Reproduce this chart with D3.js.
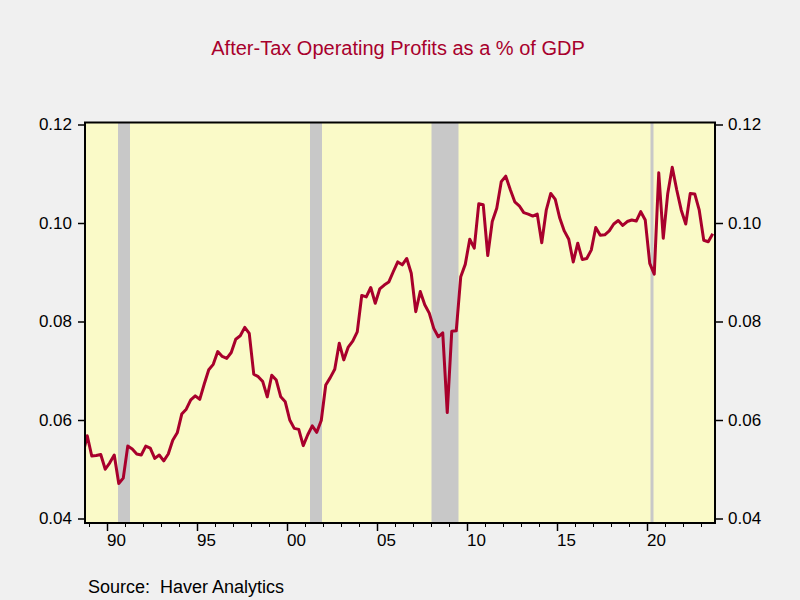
<!DOCTYPE html>
<html>
<head>
<meta charset="utf-8">
<script src="https://cdn.jsdelivr.net/npm/d3@7"></script>
<style>
  html, body { margin: 0; padding: 0; background: #f0f0f0; }
  svg { display: block; }
  text { font-family: "Liberation Sans", Arial, sans-serif; }
</style>
</head>
<body>
<svg id="chart" width="800" height="600"></svg>
<script>
// ---- Data (quarterly, starting 1988 Q3) ----
const title = "After-Tax Operating Profits as a % of GDP";
const source = "Source:  Haver Analytics";
const startYear = 1988;
const startQuarter = 3;
const profitsShare = [
  0.0530, 0.0568, 0.0527, 0.0528, 0.0530, 0.0500, 0.0513, 0.0529, // 88Q3-90Q2
  0.0471, 0.0482, 0.0547, 0.0541, 0.0531, 0.0529, 0.0547, 0.0543, // 90Q3-92Q2
  0.0522, 0.0529, 0.0517, 0.0531, 0.0559, 0.0574, 0.0612, 0.0622, // 92Q3-94Q2
  0.0641, 0.0649, 0.0642, 0.0673, 0.0702, 0.0713, 0.0739, 0.0729, // 94Q3-96Q2
  0.0725, 0.0737, 0.0764, 0.0771, 0.0788, 0.0776, 0.0693, 0.0688, // 96Q3-98Q2
  0.0678, 0.0647, 0.0691, 0.0681, 0.0647, 0.0637, 0.0600, 0.0583, // 98Q3-00Q2
  0.0581, 0.0548, 0.0570, 0.0588, 0.0575, 0.0599, 0.0671, 0.0686, // 00Q3-02Q2
  0.0703, 0.0756, 0.0722, 0.0748, 0.0760, 0.0779, 0.0853, 0.0850, // 02Q3-04Q2
  0.0869, 0.0837, 0.0866, 0.0874, 0.0880, 0.0901, 0.0921, 0.0915, // 04Q3-06Q2
  0.0928, 0.0898, 0.0820, 0.0861, 0.0834, 0.0817, 0.0786, 0.0769, // 06Q3-08Q2
  0.0777, 0.0615, 0.0780, 0.0781, 0.0891, 0.0916, 0.0967, 0.0949, // 08Q3-10Q2
  0.1039, 0.1037, 0.0934, 0.1003, 0.1030, 0.1084, 0.1095, 0.1068, // 10Q3-12Q2
  0.1043, 0.1035, 0.1021, 0.1018, 0.1014, 0.1018, 0.0960, 0.1026, // 12Q3-14Q2
  0.1060, 0.1048, 0.1010, 0.0984, 0.0967, 0.0921, 0.0959, 0.0926, // 14Q3-16Q2
  0.0928, 0.0945, 0.0991, 0.0975, 0.0976, 0.0984, 0.0998, 0.1005, // 16Q3-18Q2
  0.0995, 0.1003, 0.1006, 0.1004, 0.1023, 0.1006, 0.0918, 0.0896, // 18Q3-20Q2
  0.1102, 0.0969, 0.1060, 0.1113, 0.1067, 0.1026, 0.0998, 0.1060, // 20Q3-22Q2
  0.1059, 0.1026, 0.0965, 0.0962, 0.0978                          // 22Q3-23Q3
];
// NBER recessions (decimal years: end of peak month -> end of trough month)
const recessions = [
  [1990 + 7/12, 1991 + 3/12],
  [2001 + 3/12, 2001 + 11/12],
  [2007 + 12/12, 2009 + 6/12],
  [2020 + 2/12, 2020 + 4/12]
];
const yTicks = [0.04, 0.06, 0.08, 0.10, 0.12];
const xMajorYears = [1990, 1995, 2000, 2005, 2010, 2015, 2020];
const xMajorLabels = ["90", "95", "00", "05", "10", "15", "20"];
const xMinorYears = d3.range(1989, 2024);

// ---- Layout ----
const svg = d3.select("#chart");
const W = 800, H = 600;
const L = 85, R = 715, T = 122.5, B = 523;
const lineColor = "#a8002c";

const series = profitsShare.map((v, i) => {
  const q = (startQuarter - 1) + i;
  return { t: startYear + Math.floor(q / 4) + ((q % 4) + 0.5) / 4, v };
});

const x = d3.scaleLinear().domain([1988.75, 2023.75]).range([L, R]);
const y = d3.scaleLinear().domain([0.04, 0.12]).range([518.5, 124.5]);

svg.append("rect").attr("width", W).attr("height", H).attr("fill", "#f0f0f0");

svg.append("defs").append("clipPath").attr("id", "plotclip")
  .append("rect").attr("x", L).attr("y", T).attr("width", R - L).attr("height", B - T);

// plot background
svg.append("rect").attr("x", L).attr("y", T).attr("width", R - L).attr("height", B - T)
  .attr("fill", "#fafac8");

const plot = svg.append("g").attr("clip-path", "url(#plotclip)");

plot.selectAll("rect.rec").data(recessions).join("rect")
  .attr("class", "rec")
  .attr("x", d => x(d[0]))
  .attr("width", d => x(d[1]) - x(d[0]))
  .attr("y", T).attr("height", B - T)
  .attr("fill", "#c8c8c8");

const line = d3.line().x(d => x(d.t)).y(d => y(d.v));
plot.append("path").datum(series)
  .attr("d", line)
  .attr("fill", "none")
  .attr("stroke", lineColor)
  .attr("stroke-width", 3)
  .attr("stroke-linejoin", "round");

// frame
svg.append("rect").attr("x", L).attr("y", T).attr("width", R - L).attr("height", B - T)
  .attr("fill", "none").attr("stroke", "#000").attr("stroke-width", 2);

// Left axis
const leftAxis = d3.axisLeft(y).tickValues(yTicks).tickFormat(d3.format(".2f"))
  .tickSize(6).tickPadding(6);
const gl = svg.append("g").attr("transform", `translate(${L - 1},0)`).call(leftAxis);
gl.select(".domain").remove();
gl.selectAll("line").attr("stroke", "#000").attr("stroke-width", 1.5);
gl.selectAll("text").attr("font-size", 17).attr("fill", "#000")
  .style("font-family", '"Liberation Sans", Arial, sans-serif');

// Right axis
const rightAxis = d3.axisRight(y).tickValues(yTicks).tickFormat(d3.format(".2f"))
  .tickSize(7).tickPadding(5);
const gr = svg.append("g").attr("transform", `translate(${R + 1},0)`).call(rightAxis);
gr.select(".domain").remove();
gr.selectAll("line").attr("stroke", "#000").attr("stroke-width", 1.5);
gr.selectAll("text").attr("font-size", 17).attr("fill", "#000")
  .style("font-family", '"Liberation Sans", Arial, sans-serif');

// Bottom axis: minor ticks each year, major every 5 yrs, labels at mid-year
const gb = svg.append("g").attr("transform", `translate(0,${B + 1})`);
gb.selectAll("line.minor").data(xMinorYears.filter(yr => !xMajorYears.includes(yr))).join("line")
  .attr("class", "minor")
  .attr("x1", d => x(d)).attr("x2", d => x(d))
  .attr("y1", 0).attr("y2", 3)
  .attr("stroke", "#000").attr("stroke-width", 1);
gb.selectAll("line.major").data(xMajorYears).join("line")
  .attr("class", "major")
  .attr("x1", d => x(d)).attr("x2", d => x(d))
  .attr("y1", 0).attr("y2", 7)
  .attr("stroke", "#000").attr("stroke-width", 1.5);
gb.selectAll("text").data(xMajorYears).join("text")
  .attr("x", d => x(d + 0.5))
  .attr("y", 22)
  .attr("text-anchor", "middle")
  .attr("font-size", 17)
  .attr("fill", "#000")
  .text((d, i) => xMajorLabels[i]);

// Title
svg.append("text").attr("x", 398).attr("y", 55)
  .attr("text-anchor", "middle")
  .attr("font-size", 20)
  .attr("fill", lineColor)
  .text(title);

// Source
svg.append("text").attr("x", 88).attr("y", 593)
  .attr("font-size", 18)
  .attr("fill", "#000")
  .attr("xml:space", "preserve")
  .style("white-space", "pre")
  .text(source);
</script>
</body>
</html>
